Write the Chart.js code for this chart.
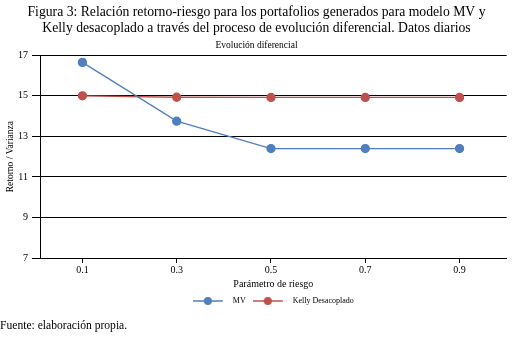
<!DOCTYPE html>
<html>
<head>
<meta charset="utf-8">
<script src="https://cdn.jsdelivr.net/npm/chart.js@4.4.1/dist/chart.umd.min.js"></script>
<style>
  body { margin: 0; background: #fff; }
  #wrap { position: relative; width: 512px; height: 340px; }
  #footer { position: absolute; left: 0; top: 319px; font: 11.6px "Liberation Serif", serif; color: #000; }
</style>
</head>
<body>
<div id="wrap">
  <canvas id="riskChart" width="512" height="340"></canvas>
  <div id="footer">Fuente: elaboración propia.</div>
</div>
<script>
// --- data ---
const riskParams = [0.1, 0.3, 0.5, 0.7, 0.9];
const mvValues = [16.65, 13.75, 12.4, 12.4, 12.4];
const kellyValues = [15.0, 14.93, 14.92, 14.92, 14.92];
const yTicks = [7, 9, 11, 13, 15, 17];

const serif = '"Liberation Serif", "Times New Roman", serif';
const blue = '#4f7fbd';
const red = '#c0504d';

// legend swatch: short line with a dot in the middle (extra room on the right = gap to text)
function legendMark(color) {
  const c = document.createElement('canvas');
  c.width = 36; c.height = 10;
  const g = c.getContext('2d');
  g.strokeStyle = color; g.lineWidth = 1.5;
  g.beginPath(); g.moveTo(0, 5); g.lineTo(30, 5); g.stroke();
  g.fillStyle = color;
  g.beginPath(); g.arc(15, 5, 4, 0, Math.PI * 2); g.fill();
  return c;
}

const ctx = document.getElementById('riskChart').getContext('2d');

const riskChart = new Chart(ctx, {
  type: 'line',
  data: {
    datasets: [{
      label: 'MV',
      data: riskParams.map((p, i) => ({ x: p, y: mvValues[i] })),
      borderColor: blue,
      backgroundColor: blue,
      borderWidth: 1.3,
      pointRadius: 4,
      pointHoverRadius: 4
    }, {
      label: 'Kelly Desacoplado',
      data: riskParams.map((p, i) => ({ x: p, y: kellyValues[i] })),
      borderColor: red,
      backgroundColor: red,
      borderWidth: 1.3,
      pointRadius: 4,
      pointHoverRadius: 4
    }]
  },
  options: {
    responsive: false,
    animation: false,
    layout: { padding: { left: 5, right: 4, top: 0, bottom: 25 } },
    scales: {
      x: {
        type: 'linear',
        min: 0.01,
        max: 1.0,
        afterBuildTicks: (scale) => { scale.ticks = riskParams.map(v => ({ value: v })); },
        ticks: {
          color: '#000',
          font: { family: serif, size: 10 },
          padding: 1,
          callback: (v) => v.toFixed(1)
        },
        grid: { drawOnChartArea: false, drawTicks: true, tickLength: 5, color: '#000' },
        border: { display: true, color: '#000', width: 1 },
        title: {
          display: true,
          text: 'Parámetro de riesgo',
          color: '#000',
          font: { family: serif, size: 10 },
          padding: { top: 1, bottom: 0 }
        }
      },
      y: {
        min: 7,
        max: 17,
        afterBuildTicks: (scale) => { scale.ticks = yTicks.map(v => ({ value: v })); },
        afterFit: (scale) => { scale.width = 35; },
        ticks: {
          color: '#000',
          font: { family: serif, size: 10 },
          padding: 4
        },
        grid: { color: '#000', lineWidth: 1, tickLength: 8 },
        border: { display: true, color: '#000', width: 1 },
        title: {
          display: true,
          text: 'Retorno / Varianza',
          color: '#000',
          font: { family: serif, size: 9.5 },
          padding: 0
        }
      }
    },
    plugins: {
      title: {
        display: true,
        text: [
          'Figura 3: Relación retorno-riesgo para los portafolios generados para modelo MV y',
          'Kelly desacoplado a través del proceso de evolución diferencial. Datos diarios'
        ],
        color: '#000',
        font: { family: serif, size: 13.7, weight: 'normal', lineHeight: 1.2 },
        padding: { top: 4, bottom: 0 }
      },
      subtitle: {
        display: true,
        text: 'Evolución diferencial',
        color: '#000',
        font: { family: serif, size: 9.5, lineHeight: 1.2 },
        padding: { top: 3, bottom: 4 }
      },
      legend: {
        position: 'bottom',
        fullSize: false,
        labels: {
          usePointStyle: true,
          pointStyleWidth: 36,
          color: '#000',
          font: { family: serif, size: 8 },
          padding: 7,
          generateLabels: (chart) => chart.data.datasets.map((ds, i) => ({
            text: ds.label,
            pointStyle: legendMark(ds.borderColor),
            fillStyle: ds.borderColor,
            strokeStyle: ds.borderColor,
            lineWidth: 0,
            datasetIndex: i,
            hidden: !chart.isDatasetVisible(i)
          }))
        }
      },
      tooltip: { enabled: false }
    }
  }
});
</script>
</body>
</html>
